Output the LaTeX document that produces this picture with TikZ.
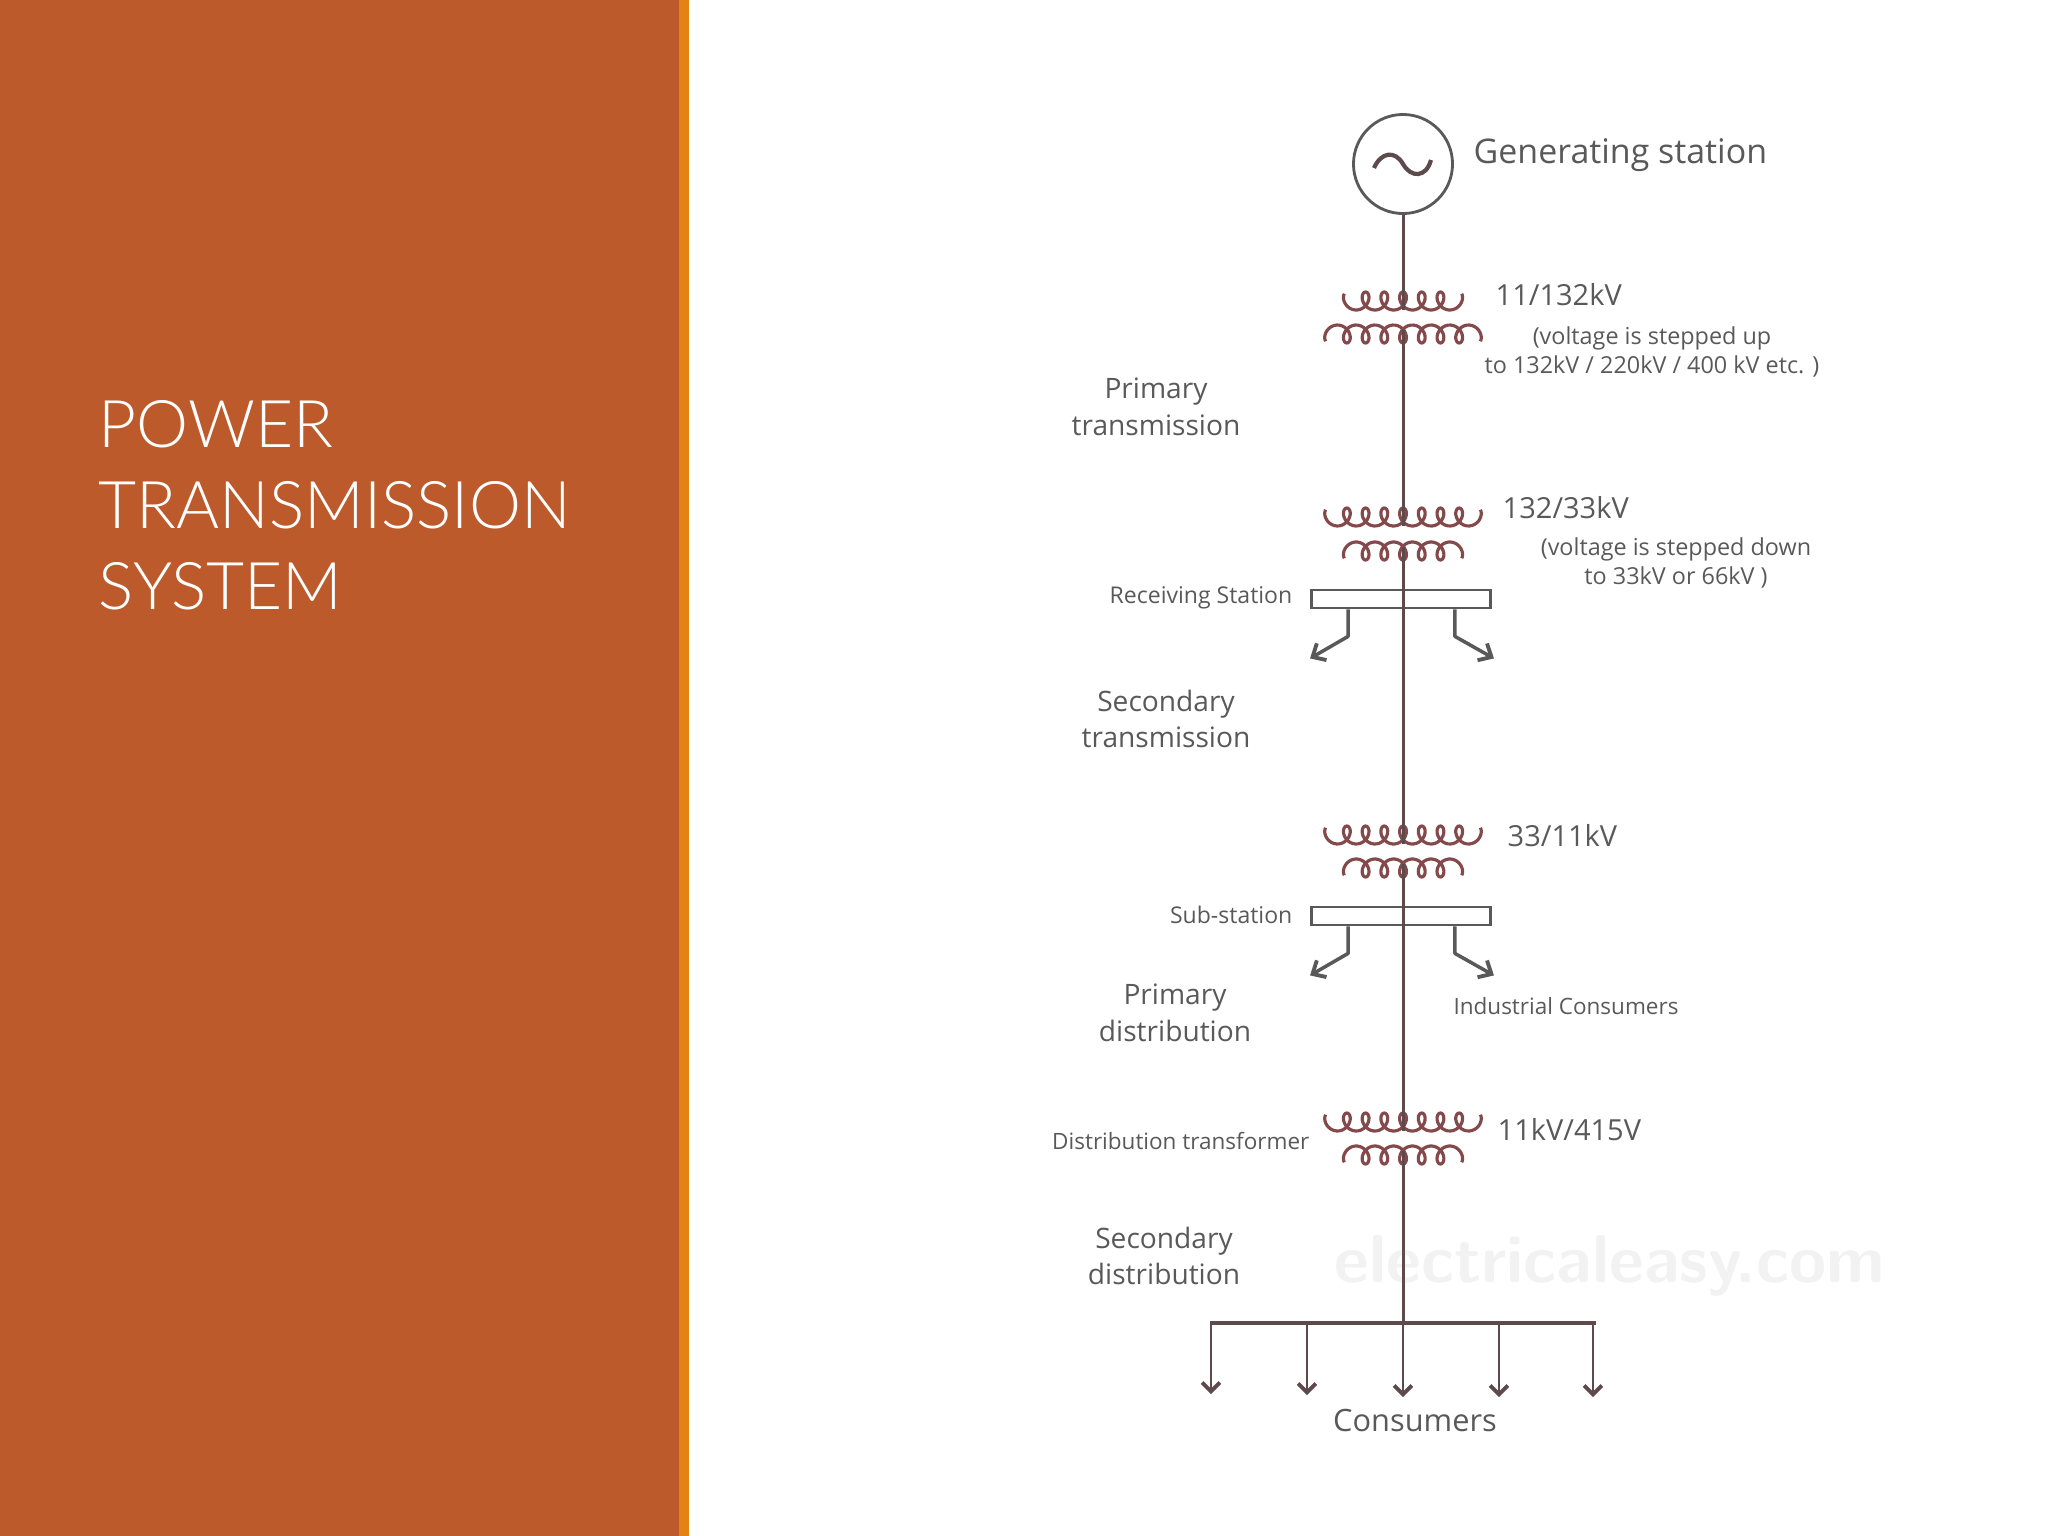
\documentclass[tikz,border=0pt]{standalone}
\usepackage{fontspec}
\setmainfont{Open Sans}
\newfontfamily\titlefont{Lato Light}
\usetikzlibrary{arrows.meta,positioning}
\definecolor{panel}{HTML}{BC5A2B}
\definecolor{strip}{HTML}{E48312}
\definecolor{coilred}{HTML}{84494B}
\definecolor{wirebrown}{HTML}{5E4A4C}
\definecolor{inkgrey}{HTML}{595959}
\tikzset{
  pics/coilup/.style={code={\draw[coil] plot[domain=-#1:#1, samples=181, smooth, variable=\t] ({0.052*\t-7.5*sin(\t)},{-9*cos(\t)});}},
  pics/coildown/.style={code={\draw[coil] plot[domain=-#1:#1, samples=181, smooth, variable=\t] ({0.052*\t-7.5*sin(\t)},{9*cos(\t)});}}
}
\begin{document}
\begin{tikzpicture}[x=0.01cm, y=-0.01cm,
  coil/.style={coilred, line width=0.9pt},
  wire/.style={wirebrown, line width=0.85pt},
  busbar/.style={draw=inkgrey, line width=0.8pt, minimum width=1.79cm, minimum height=0.18cm, inner sep=0pt},
  feed/.style={inkgrey, line width=1pt, line join=round, -{Straight Barb[length=3pt,width=5.5pt,line width=1.1pt]}},
  drop/.style={wirebrown, line width=0.75pt, -{Straight Barb[length=2.5pt,width=5pt,line width=1.1pt]}},
  biglabel/.style={inkgrey, font=\fontsize{8}{10.4}\selectfont, align=center, inner sep=0pt},
  voltlabel/.style={inkgrey, font=\fontsize{8.25}{10.4}\selectfont, inner sep=0pt, anchor=west},
  smalllabel/.style={inkgrey, font=\fontsize{6.4}{8.2}\selectfont, align=center, inner sep=0pt},
  notelabel/.style={inkgrey, font=\fontsize{6.65}{8.2}\selectfont, align=center, inner sep=0pt}]
\useasboundingbox (0,0) rectangle (2048,1536);

\fill[panel] (0,0) rectangle (679,1536);
\fill[strip] (679,0) rectangle (689,1536);
\node[white, font=\titlefont\fontsize{18.7}{23}\selectfont, align=left, anchor=west, inner sep=0pt] (title) at (98,505) {POWER\\TRANSMISSION\\SYSTEM};
\node[font=\sffamily\bfseries\fontsize{19.2}{22}\selectfont, text=black!5, inner sep=0pt] (mark) at (1610,1266) {electricaleasy.com};

% generator
\node[circle, draw=inkgrey, line width=0.8pt, minimum size=0.99cm, inner sep=0pt] (gen) at (1403,164) {};
\draw[wirebrown, line width=1.2pt] (1374,168) .. controls (1381,152) and (1395,150) .. (1403,164) .. controls (1411,178) and (1426,178) .. (1431,160);
\node[inkgrey, font=\fontsize{9.65}{12}\selectfont, anchor=west, inner sep=0pt] (genlabel) at (1473,155) {Generating station};

% transformers
\coordinate (t1a) at (1403,310);
\coordinate (t1b) at (1403,330);
\coordinate (t2a) at (1403,526);
\coordinate (t2b) at (1403,547);
\coordinate (t3a) at (1403,844);
\coordinate (t3b) at (1403,864);
\coordinate (t4a) at (1403,1131);
\coordinate (t4b) at (1403,1151);
\path (1403,301) pic {coilup=1044};
\path (1403,334) pic {coildown=1404};
\path (1403,517) pic {coilup=1404};
\path (1403,551) pic {coildown=1044};
\path (1403,835) pic {coilup=1404};
\path (1403,868) pic {coildown=1044};
\path (1403,1122) pic {coilup=1404};
\path (1403,1155) pic {coildown=1044};

% bus bars
\node[busbar] (rs) at (1401,599) {};
\node[busbar] (ss) at (1401,916) {};
\coordinate (lvbus) at (1403,1323);
\coordinate (lvleft) at (1210,1323);
\coordinate (lvright) at (1596,1323);

\draw[wire] (gen) -- (t1a);
\draw[wire] (t1b) -- (t2a);
\draw[wire] (t2b) -- (t3a);
\draw[wire] (t3b) -- (t4a);
\draw[wire] (t4b) -- (lvbus);
\draw[wire, line width=1pt] (lvleft) -- (lvright);

% feeders
\draw[feed] ([xshift=0.38cm]rs.south west) -- ++(0,27) -- ++(-38,22);
\draw[feed] ([xshift=-0.37cm]rs.south east) -- ++(0,27) -- ++(39,22);
\draw[feed] ([xshift=0.38cm]ss.south west) -- ++(0,27) -- ++(-38,22);
\draw[feed] ([xshift=-0.37cm]ss.south east) -- ++(0,27) -- ++(39,22);

% consumers
\foreach \n/\xx/\yy in {a/1211/1394, b/1307/1395, c/1403/1397, d/1499/1397, e/1593/1397} {
  \coordinate (top\n) at (\xx,1323);
  \coordinate (load\n) at (\xx,\yy);
  \draw[drop] (top\n) -- (load\n);
}

\node[biglabel] (lab1) at (1156,407) {Primary\\transmission};
\node[biglabel] (lab2) at (1166,719) {Secondary\\transmission};
\node[biglabel] (lab3) at (1175,1013) {Primary\\distribution};
\node[biglabel] (lab4) at (1164,1256) {Secondary\\distribution};
\node[smalllabel, anchor=east, font=\fontsize{6.55}{8.2}\selectfont] (lab5) at (1293,598) {Receiving Station};
\node[smalllabel, anchor=east, font=\fontsize{6.55}{8.2}\selectfont] (lab6) at (1293,915) {Sub-station};
\node[smalllabel, anchor=east] (lab7) at (1310,1141) {Distribution transformer};
\node[voltlabel] (v1) at (1495,295) {11/132kV};
\node[voltlabel] (v2) at (1502,508) {132/33kV};
\node[voltlabel] (v3) at (1507,836) {33/11kV};
\node[voltlabel] (v4) at (1497,1130) {11kV/415V};
\node[notelabel] (note1) at (1652,352) {(voltage is stepped up\\to 132kV / 220kV / 400 kV etc. )};
\node[notelabel] (note2) at (1676,563) {(voltage is stepped down\\to 33kV or 66kV )};
\node[smalllabel] (ind) at (1566,1006) {Industrial Consumers};
\node[inkgrey, font=\fontsize{8.75}{12}\selectfont, inner sep=0pt] (cons) at (1415,1420) {Consumers};
\end{tikzpicture}
\end{document}
